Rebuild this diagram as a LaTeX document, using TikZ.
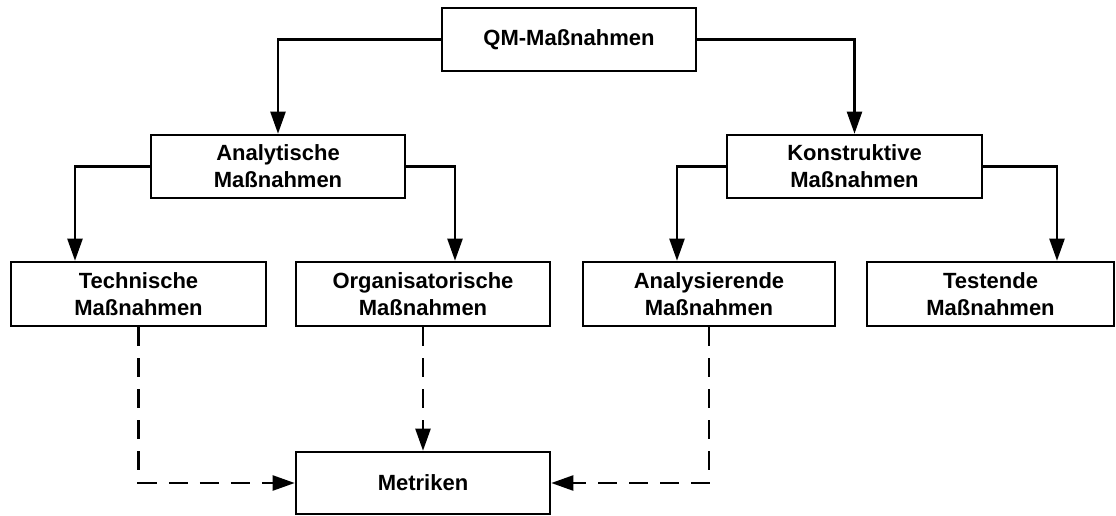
\documentclass[tikz,border=0pt]{standalone}
\usepackage{fontspec}
\setmainfont{Liberation Sans}
\usetikzlibrary{arrows.meta}

\begin{document}
\begin{tikzpicture}[x=1pt,y=-1pt,
  box/.style={draw, line width=2.6pt, rectangle, inner sep=0pt,
    minimum width=254pt, minimum height=63pt, align=center,
    font=\fontsize{22}{27}\selectfont\bfseries},
  link/.style={line width=2.3pt, -{Triangle[length=22pt,width=15pt]}},
  dlink/.style={link, dash pattern=on 19pt off 12pt}]
  \useasboundingbox (0,0) rectangle (1116,515);

  % top level
  \node[box] (qm)  at (569,39.5)   {QM-Maßnahmen};
  % second level
  \node[box] (ana) at (278,166.5)  {Analytische\\Maßnahmen};
  \node[box, minimum width=255pt] (kon) at (854.5,166.5) {Konstruktive\\Maßnahmen};
  % third level
  \node[box, minimum width=255pt, minimum height=64pt] (tec) at (138.5,294) {Technische\\Maßnahmen};
  \node[box, minimum height=64pt] (org) at (423,294) {Organisatorische\\Maßnahmen};
  \node[box, minimum width=252pt, minimum height=64pt] (anz) at (709,294) {Analysierende\\Maßnahmen};
  \node[box, minimum width=247pt, minimum height=64pt] (tst) at (990.5,294) {Testende\\Maßnahmen};
  % bottom
  \node[box, minimum height=62pt] (met) at (423,483) {Metriken};

  % hierarchy
  \draw[link] (qm.west) -| (ana.north);
  \draw[link] (qm.east) -| (kon.north);
  \draw[link] (ana.west) -| ([xshift=-63.5pt]tec.north);
  \draw[link] (ana.east) -| ([xshift=32pt]org.north);
  \draw[link] (kon.west) -| ([xshift=-32pt]anz.north);
  \draw[link] (kon.east) -| ([xshift=66.5pt]tst.north);

  % contributions to the metrics
  \draw[dlink] (tec.south) |- (met.west);
  \draw[dlink] (org.south) -- (met.north);
  \draw[dlink] (anz.south) |- (met.east);
\end{tikzpicture}
\end{document}
